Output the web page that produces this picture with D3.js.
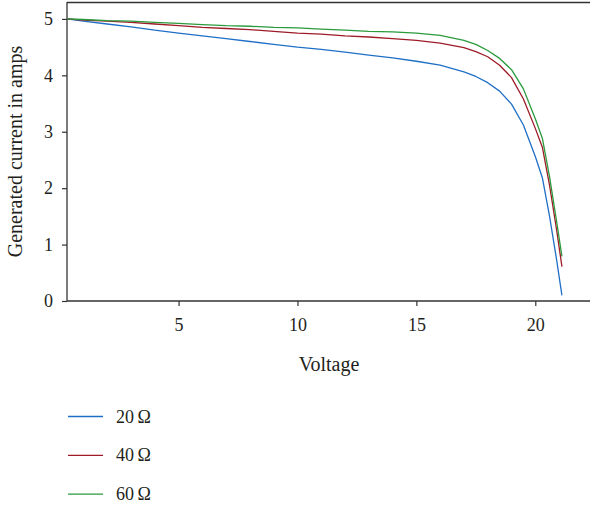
<!DOCTYPE html>
<html>
<head>
<meta charset="utf-8">
<script src="https://d3js.org/d3.v7.min.js"></script>
<style>
  body { margin: 0; background: #fff; }
  text { font-family: "Liberation Serif", "DejaVu Serif", serif; fill: #231f20; }
</style>
</head>
<body>
<svg id="chart" width="590" height="509"></svg>
<script>
// values
var voltage   = [0.31, 1, 2, 3, 4, 5, 6, 7, 8, 9, 10, 11, 12, 13, 14, 15, 16, 17, 17.5, 18, 18.5, 19, 19.5, 20, 20.3, 20.6, 20.9, 21.12];
var current20 = [5.0, 4.96, 4.91, 4.86, 4.80, 4.75, 4.70, 4.65, 4.60, 4.55, 4.50, 4.46, 4.41, 4.36, 4.31, 4.25, 4.18, 4.06, 3.98, 3.87, 3.72, 3.49, 3.12, 2.56, 2.18, 1.50, 0.72, 0.1];
var current40 = [5.0, 4.98, 4.96, 4.94, 4.91, 4.88, 4.85, 4.83, 4.81, 4.78, 4.75, 4.73, 4.70, 4.68, 4.65, 4.62, 4.57, 4.49, 4.42, 4.33, 4.18, 3.96, 3.58, 3.06, 2.72, 2.05, 1.25, 0.61];
var current60 = [5.0, 4.99, 4.97, 4.96, 4.94, 4.92, 4.90, 4.88, 4.87, 4.85, 4.84, 4.82, 4.80, 4.78, 4.77, 4.75, 4.71, 4.62, 4.55, 4.44, 4.30, 4.10, 3.76, 3.23, 2.88, 2.2, 1.4, 0.79];
var seriesNames = ["20\u2009\u03A9", "40\u2009\u03A9", "60\u2009\u03A9"];
var xTicks = [5, 10, 15, 20];
var yTicks = [0, 1, 2, 3, 4, 5];

var colors = ["#1f6fc6", "#9e1b28", "#2a9a3c"];

var svg = d3.select("#chart");
var plotL = 67, plotR = 590, plotT = 2, plotB = 301;

var x = d3.scaleLinear().domain([0.31, 22.3]).range([plotL, plotR]);
var y = d3.scaleLinear().domain([0, 5.3]).range([plotB, plotT]);

// top frame line
svg.append("line")
   .attr("x1", plotL).attr("x2", plotR)
   .attr("y1", plotT + 0.5).attr("y2", plotT + 0.5)
   .attr("stroke", "#333").attr("stroke-width", 1.3);

var xAxis = svg.append("g")
   .attr("transform", "translate(0," + plotB + ")")
   .call(d3.axisBottom(x).tickValues(xTicks).tickSize(5).tickPadding(12).tickSizeOuter(0));

var yAxis = svg.append("g")
   .attr("transform", "translate(" + plotL + ",0)")
   .call(d3.axisLeft(y).tickValues(yTicks).tickFormat(d3.format("d")).tickSize(5).tickPadding(9).tickSizeOuter(0));

[xAxis, yAxis].forEach(function(g) {
  g.select(".domain").attr("stroke", "#333").attr("stroke-width", 1.3);
  g.selectAll(".tick line").attr("stroke", "#333").attr("stroke-width", 1.2);
  g.selectAll(".tick text").style("font-size", "18px").attr("fill", "#231f20")
   .style("font-family", "'Liberation Serif', 'DejaVu Serif', serif");
});
// the axis lines should span the whole plot
xAxis.select(".domain").attr("d", "M" + plotL + ",0H" + plotR);
yAxis.select(".domain").attr("d", "M0," + plotT + "V" + plotB);

var line = d3.line()
   .x(function(d) { return x(d[0]); })
   .y(function(d) { return y(d[1]); });

var allSeries = [current20, current40, current60];
allSeries.forEach(function(s, i) {
  svg.append("path")
     .datum(voltage.map(function(v, k) { return [v, s[k]]; }))
     .attr("fill", "none")
     .attr("stroke", colors[i])
     .attr("stroke-width", 1.3)
     .attr("stroke-linejoin", "round")
     .attr("d", line);
});

svg.append("text")
   .attr("x", 329)
   .attr("y", 371)
   .attr("text-anchor", "middle")
   .style("font-size", "20px")
   .text("Voltage");

svg.append("text")
   .attr("transform", "translate(22," + (plotT + plotB) / 2 + ") rotate(-90)")
   .attr("text-anchor", "middle")
   .style("font-size", "20px")
   .text("Generated current in amps");

// legend
var legend = svg.append("g");
seriesNames.forEach(function(name, i) {
  var ly = 416.5 + i * 38.8;
  legend.append("line")
     .attr("x1", 68).attr("x2", 103)
     .attr("y1", ly).attr("y2", ly)
     .attr("stroke", colors[i]).attr("stroke-width", 1.3);
  legend.append("text")
     .attr("x", 116).attr("y", ly + 6)
     .style("font-size", "18px")
     .text(name);
});
</script>
</body>
</html>
